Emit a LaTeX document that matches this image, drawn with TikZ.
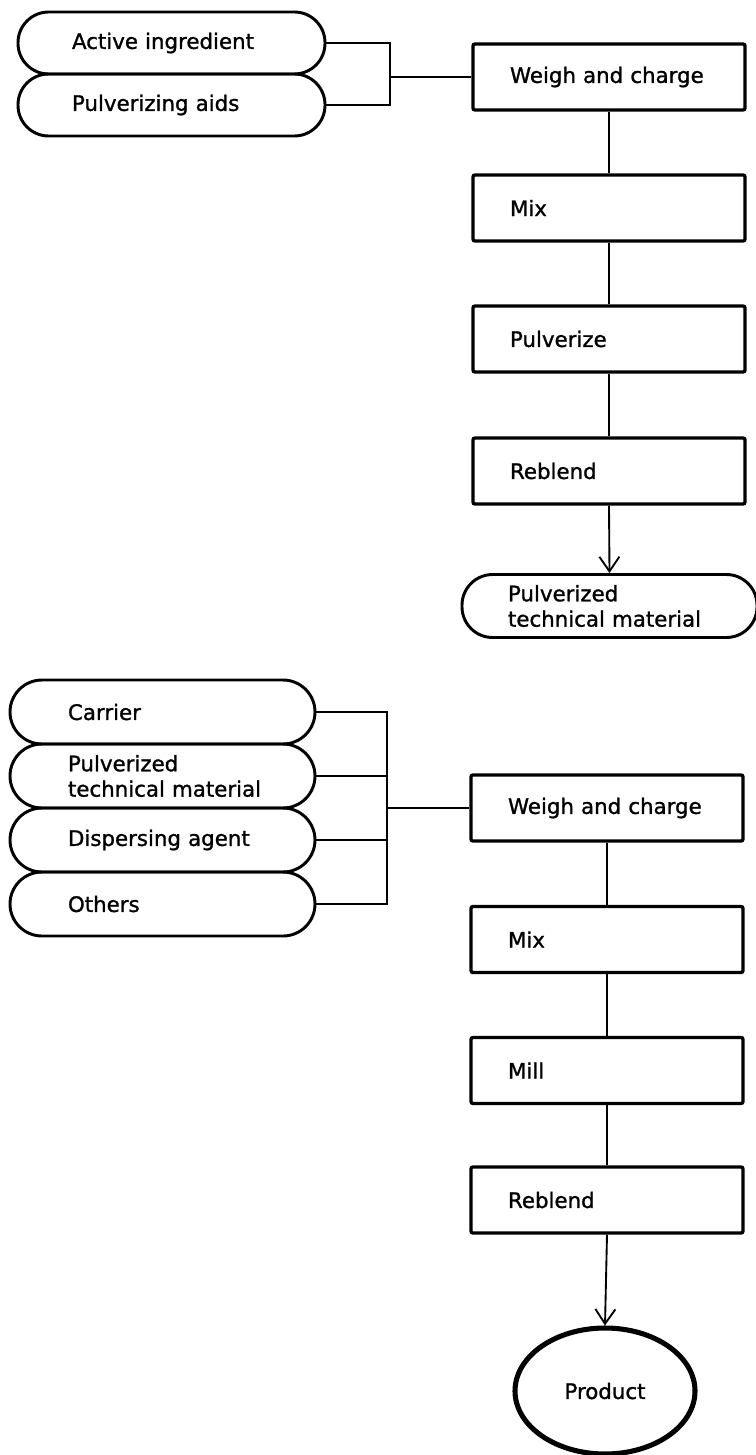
\documentclass[tikz,border=0pt]{standalone}
\usepackage{fontspec}
\setmainfont{DejaVu Sans}
\newfontfamily\labelfont{DejaVu Sans}[FakeBold=1.2]
\usetikzlibrary{arrows.meta,shapes.geometric}

\tikzset{
  labeltext/.style={font=\labelfont\fontsize{16}{19}\selectfont},
  base/.style={labeltext, align=left, inner ysep=0pt},
  stepbox/.style={base, draw, line width=2.5pt, rounded corners=1.5pt,
    minimum height=49.5pt, text width=148.5pt, inner xsep=27.75pt},
  capsule/.style={base, draw, line width=2.2pt, rounded corners=23pt,
    minimum height=46.5pt},
  topcap/.style={capsule, text width=149.25pt, inner xsep=40.5pt},
  lowcap/.style={capsule, minimum height=48pt, rounded corners=24pt,
    text width=141.75pt, inner xsep=43.5pt},
  outcap/.style={capsule, minimum height=47.25pt, text width=152.25pt, inner xsep=34.5pt},
  link/.style={line width=1.4pt},
  flow/.style={link, -{Straight Barb[length=11pt,width=15pt,line width=1.4pt]}},
  endpoint/.style={labeltext, ellipse, draw, line width=3.8pt, minimum width=135pt,
    minimum height=94.5pt, inner sep=0pt}
}

\begin{document}
\begin{tikzpicture}[x=0.75pt, y=-0.75pt]
  \useasboundingbox (0,0) rectangle (756,1455);

  % ---- preparation of the technical material ----
  \node[topcap] (act)  at (171.5, 43)  {Active ingredient};
  \node[topcap] (aids) at (171.5, 105) {Pulverizing aids};

  \node[stepbox] (w1)   at (609, 77)  {Weigh and charge};
  \node[stepbox] (mix1) at (609, 208) {Mix};
  \node[stepbox] (pulv) at (609, 339) {Pulverize};
  \node[stepbox] (reb1) at (609, 471) {Reblend};
  \node[outcap]  (ptm)  at (609.5, 606) {Pulverized\\\mbox{technical material}};

  \coordinate (j1) at (390, 77);
  \draw[link] (act.east) -| (j1);
  \draw[link] (aids.east) -| (j1);
  \draw[link] (j1) -- (w1.west);
  \draw[link] (w1.south) -- (mix1.north);
  \draw[link] (mix1.south) -- (pulv.north);
  \draw[link] (pulv.south) -- (reb1.north);
  \draw[flow] (reb1.south) -- (ptm.north);

  % ---- formulation of the dust ----
  \node[lowcap] (car)  at (162.5, 712) {Carrier};
  \node[lowcap] (ptm2) at (162.5, 776) {Pulverized\\\mbox{technical material}};
  \node[lowcap] (disp) at (162.5, 840) {Dispersing agent};
  \node[lowcap] (oth)  at (162.5, 904) {Others};

  \node[stepbox] (w2)   at (607, 808)    {Weigh and charge};
  \node[stepbox] (mix2) at (607, 939.5)  {Mix};
  \node[stepbox] (mill) at (607, 1070.5) {Mill};
  \node[stepbox] (reb2) at (607, 1200)   {Reblend};
  \node[endpoint] (prod) at (605, 1391)  {Product};

  \coordinate (j2) at (387, 808);
  \draw[link] (car.east) -| (j2);
  \draw[link] (ptm2.east) -| (j2);
  \draw[link] (disp.east) -| (j2);
  \draw[link] (oth.east) -| (j2);
  \draw[link] (j2) -- (w2.west);
  \draw[link] (w2.south) -- (mix2.north);
  \draw[link] (mix2.south) -- (mill.north);
  \draw[link] (mill.south) -- (reb2.north);
  \draw[flow] (reb2.south) -- (prod.north);
\end{tikzpicture}
\end{document}
